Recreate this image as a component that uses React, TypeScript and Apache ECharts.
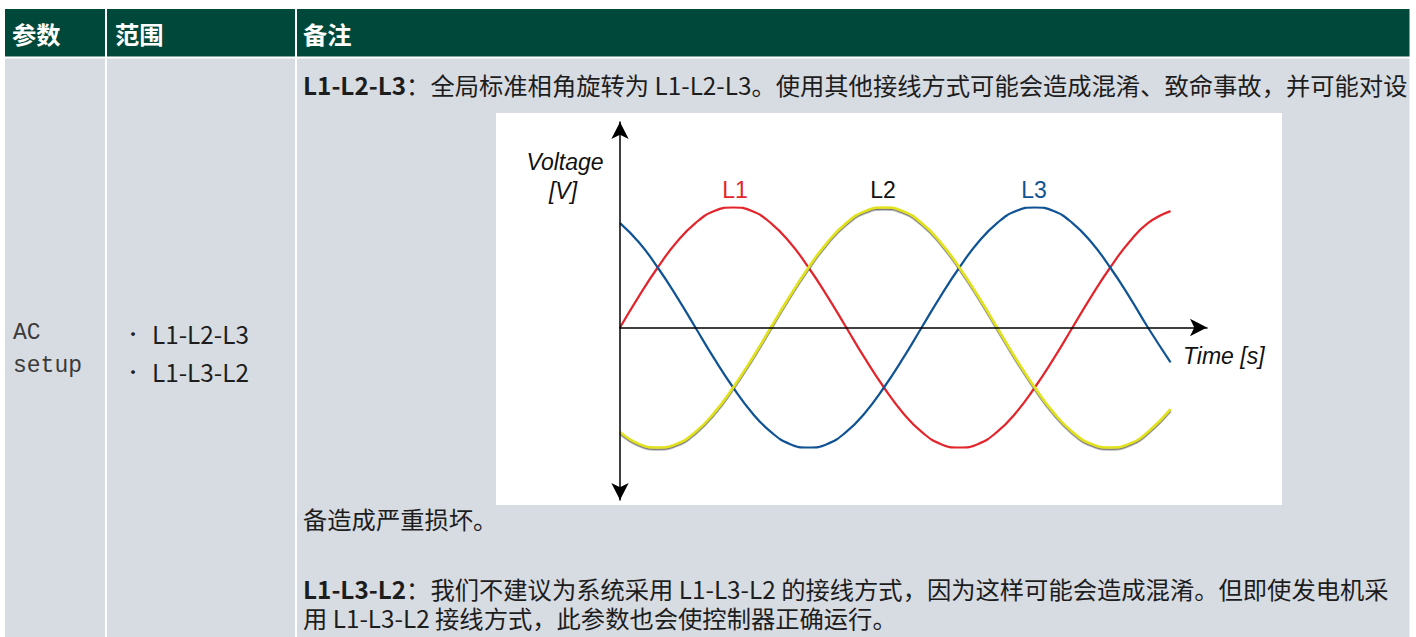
import React, { useEffect, useRef } from "react";
import * as echarts from "echarts";

// phase angle (degrees) along the time axis
const phase = [0, 15, 30, 45, 60, 75, 90, 105, 120, 135, 150, 165, 180, 195, 210, 225, 240, 255, 270, 285, 300, 315, 330, 345, 360, 375, 390, 405, 420, 438];
const l1Values = [0, 0.26, 0.5, 0.71, 0.87, 0.97, 1, 0.97, 0.87, 0.71, 0.5, 0.26, 0, -0.26, -0.5, -0.71, -0.87, -0.97, -1, -0.97, -0.87, -0.71, -0.5, -0.26, 0, 0.26, 0.5, 0.71, 0.87, 0.97];
const l2Values = [-0.87, -0.97, -1, -0.97, -0.87, -0.71, -0.5, -0.26, 0, 0.26, 0.5, 0.71, 0.87, 0.97, 1, 0.97, 0.87, 0.71, 0.5, 0.26, 0, -0.26, -0.5, -0.71, -0.87, -0.97, -1, -0.97, -0.87, -0.68];
const l3Values = [0.87, 0.71, 0.5, 0.26, 0, -0.26, -0.5, -0.71, -0.87, -0.97, -1, -0.97, -0.87, -0.71, -0.5, -0.26, 0, 0.26, 0.5, 0.71, 0.87, 0.97, 1, 0.97, 0.87, 0.71, 0.5, 0.26, 0, -0.29];

const headers = ["参数", "范围", "备注"];
const paramName = ["AC", "setup"];
const rangeItems = ["L1-L2-L3", "L1-L3-L2"];
const note1Bold = "L1-L2-L3";
const note1Text = "：全局标准相角旋转为 L1-L2-L3。使用其他接线方式可能会造成混淆、致命事故，并可能对设";
const note1Tail = "备造成严重损坏。";
const note2Bold = "L1-L3-L2";
const note2Text = "：我们不建议为系统采用 L1-L3-L2 的接线方式，因为这样可能会造成混淆。但即使发电机采";
const note2Line2 = "用 L1-L3-L2 接线方式，此参数也会使控制器正确运行。";
const seriesNames = ["L1", "L2", "L3"];

const CJK = "'Noto Sans CJK SC', 'Noto Sans', sans-serif";
const ARIAL = "'Liberation Sans', Arial, sans-serif";
const TEXT = "#1d1d1d";
const FS = 24.3;

function pairs(v: number[]) {
  return phase.map((p, i) => [p, v[i]]);
}

export default function App() {
  const ref = useRef<HTMLDivElement>(null);
  useEffect(() => {
    const chart = echarts.init(ref.current!, null, { renderer: "svg" });
    const txt = (x: number, y: number, text: string, extra: any = {}) => ({
      type: "text",
      x,
      y,
      z: 50,
      style: {
        text,
        fill: TEXT,
        fontSize: FS,
        fontFamily: CJK,
        lineHeight: 26,
        verticalAlign: "middle",
        align: "left",
        ...extra,
      },
    });
    const richTxt = (x: number, y: number, text: string) => ({
      type: "text",
      x,
      y,
      z: 50,
      style: {
        text,
        fill: TEXT,
        fontSize: FS,
        fontFamily: CJK,
        lineHeight: 29,
        verticalAlign: "middle",
        rich: { b: { fontWeight: "bold", fontSize: FS, fontFamily: CJK, fill: TEXT, lineHeight: 29 } },
      },
    });
    const graphic: any[] = [
      { type: "rect", z: 0, shape: { x: 5, y: 9, width: 1405, height: 48 }, style: { fill: "#00483a" } },
      { type: "rect", z: 0, shape: { x: 5, y: 58, width: 1405, height: 590 }, style: { fill: "#d7dbe2" } },
      { type: "line", z: 1, shape: { x1: 106, y1: 9, x2: 106, y2: 640 }, style: { stroke: "#ffffff", lineWidth: 2 } },
      { type: "line", z: 1, shape: { x1: 296, y1: 9, x2: 296, y2: 640 }, style: { stroke: "#ffffff", lineWidth: 2 } },
      { type: "line", z: 1, shape: { x1: 5, y1: 57.5, x2: 1410, y2: 57.5 }, style: { stroke: "#ffffff", lineWidth: 2 } },
      { type: "line", z: 1, shape: { x1: 1410.5, y1: 9, x2: 1410.5, y2: 640 }, style: { stroke: "#ffffff", lineWidth: 2 } },
      { type: "rect", z: 1, shape: { x: 496, y: 113, width: 786, height: 392 }, style: { fill: "#ffffff" } },
      txt(12, 33, headers[0], { fill: "#ffffff", fontWeight: "bold" }),
      txt(115, 33, headers[1], { fill: "#ffffff", fontWeight: "bold" }),
      txt(303, 33, headers[2], { fill: "#ffffff", fontWeight: "bold" }),
      txt(13, 333, paramName[0], { fontFamily: "'Liberation Mono', monospace", fontSize: 23, fill: "#3a3a3a" }),
      txt(13, 366, paramName[1], { fontFamily: "'Liberation Mono', monospace", fontSize: 23, fill: "#3a3a3a" }),
      txt(124, 333, "•", { fontSize: 18 }),
      txt(124, 371, "•", { fontSize: 18 }),
      txt(152, 333, rangeItems[0]),
      txt(152, 371, rangeItems[1]),
      richTxt(303, 84, `{b|${note1Bold}}${note1Text}`),
      txt(303, 518, note1Tail),
      richTxt(303, 602.5, `{b|${note2Bold}}${note2Text}\n${note2Line2}`),
      txt(565, 162, "Voltage", { fontFamily: ARIAL, fontStyle: "italic", fontSize: 23, fill: "#111", align: "center" }),
      txt(563, 191, "[V]", { fontFamily: ARIAL, fontStyle: "italic", fontSize: 23, fill: "#111", align: "center" }),
      txt(1183, 356, "Time [s]", { fontFamily: ARIAL, fontStyle: "italic", fontSize: 23, fill: "#111" }),
      txt(735, 190, seriesNames[0], { fontFamily: ARIAL, fontSize: 23, fill: "#e3242b", align: "center" }),
      txt(883, 190, seriesNames[1], { fontFamily: ARIAL, fontSize: 23, fill: "#111111", align: "center" }),
      txt(1034, 190, seriesNames[2], { fontFamily: ARIAL, fontSize: 23, fill: "#0f5394", align: "center" }),
    ];
    chart.setOption({
      animation: false,
      backgroundColor: "#ffffff",
      grid: { left: 620, right: 209, top: 122, bottom: 137, outerBoundsMode: "none" },
      xAxis: {
        type: "value",
        min: 0,
        max: 467,
        z: 10,
        axisLine: { show: true, onZero: true, symbol: ["none", "arrow"], symbolSize: [13, 17], lineStyle: { color: "#000", width: 1.5 } },
        axisTick: { show: false },
        axisLabel: { show: false },
        splitLine: { show: false },
      },
      yAxis: {
        type: "value",
        min: -1.4375,
        max: 1.7125,
        z: 10,
        axisLine: { show: true, symbol: ["arrow", "arrow"], symbolSize: [13, 17], lineStyle: { color: "#000", width: 1.5 } },
        axisTick: { show: false },
        axisLabel: { show: false },
        splitLine: { show: false },
      },
      graphic,
      series: [
        {
          name: seriesNames[0],
          type: "line",
          data: pairs(l1Values),
          smooth: true,
          showSymbol: false,
          z: 3,
          lineStyle: { color: "#e3242b", width: 2.2 },
        },
        {
          name: seriesNames[1],
          type: "line",
          data: pairs(l2Values),
          smooth: true,
          showSymbol: false,
          z: 4,
          lineStyle: { color: "#e2e21c", width: 2.6, shadowColor: "rgba(80,80,80,0.8)", shadowOffsetY: 1.5, shadowBlur: 1 },
        },
        {
          name: seriesNames[2],
          type: "line",
          data: pairs(l3Values),
          smooth: true,
          showSymbol: false,
          z: 3,
          lineStyle: { color: "#0f5394", width: 2.2 },
        },
      ],
    });
    return () => chart.dispose();
  }, []);
  return <div ref={ref} style={{ position: "absolute", left: 0, top: 0, width: 1416, height: 637 }} />;
}
